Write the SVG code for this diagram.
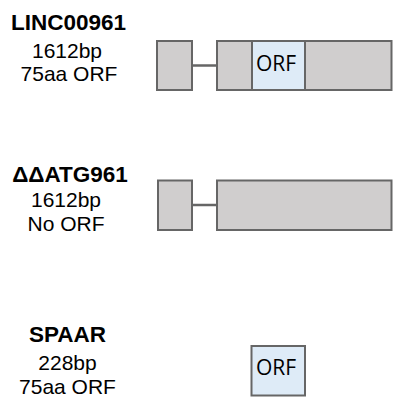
<svg xmlns="http://www.w3.org/2000/svg" width="393" height="399" viewBox="0 0 393 399">
<style>
.exon{fill:#d0cece;stroke:#666666;stroke-width:2}
.orf{fill:#deebf7;stroke:#666666;stroke-width:2}
.intron{stroke:#666666;stroke-width:2.5;fill:none}
.title{font-family:"Liberation Sans",Arial,sans-serif;font-weight:bold;font-size:22.5px;text-anchor:middle;fill:#000}
.sub{font-family:"Liberation Sans",Arial,sans-serif;font-size:21px;text-anchor:middle;fill:#000}
.orft{font-family:"Open Sans","Noto Sans",sans-serif;font-size:21px;fill:#000}
</style>
<rect width="393" height="399" fill="#ffffff"/>
<g id="connectors">
<line class="intron" x1="192" y1="65.5" x2="217" y2="65.5"/>
<line class="intron" x1="192" y1="205" x2="217" y2="205"/>
</g>
<g id="linc00961">
<text class="title" x="68.5" y="30">LINC00961</text>
<text class="sub" x="67" y="58">1612bp</text>
<text class="sub" x="69" y="80.5">75aa ORF</text>
<rect class="exon" x="157" y="41" width="35" height="49"/>
<rect class="exon" x="217" y="41" width="174.5" height="49"/>
<rect class="orf" x="252" y="41" width="53" height="49"/>
<text class="orft" x="256" y="71">ORF</text>
</g>
<g id="datg961">
<text class="title" x="70" y="182">ΔΔATG961</text>
<text class="sub" x="66" y="207">1612bp</text>
<text class="sub" x="66" y="231">No ORF</text>
<rect class="exon" x="158" y="180.5" width="34" height="49.5"/>
<rect class="exon" x="217" y="180.5" width="174.5" height="49.5"/>
</g>
<g id="spaar">
<text class="title" x="67.5" y="342">SPAAR</text>
<text class="sub" x="67.5" y="370">228bp</text>
<text class="sub" x="67.5" y="394">75aa ORF</text>
<rect class="orf" x="251.5" y="346" width="53.5" height="49.5"/>
<text class="orft" x="256" y="375">ORF</text>
</g>
</svg>
